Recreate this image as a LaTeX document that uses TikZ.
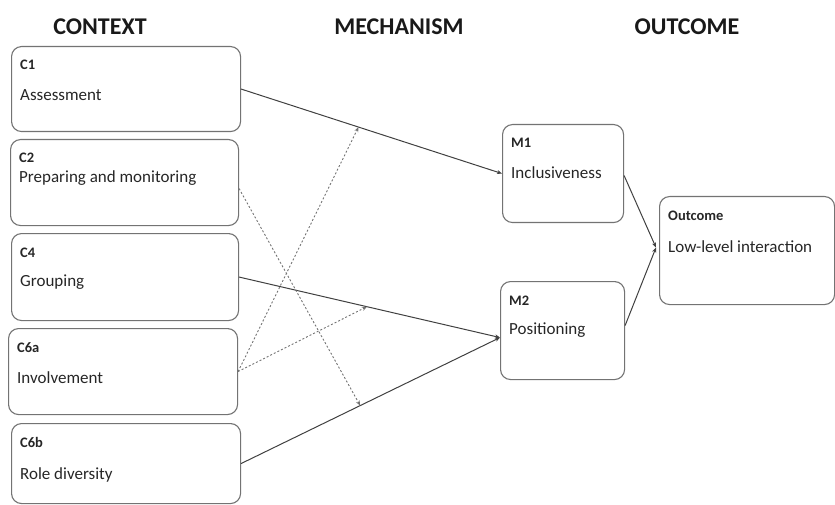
\documentclass[tikz,border=0pt]{standalone}
\usepackage{fontspec}
\setmainfont{Carlito}
\usetikzlibrary{arrows.meta}

\begin{document}
\begin{tikzpicture}
  [x=1pt,y=-1pt,
   box/.style={draw=black!55,line width=1.1pt,rounded corners=10pt,inner sep=0pt},
   lab/.style={font=\fontsize{14.5}{16}\selectfont\bfseries,text=black!85,inner sep=0pt,anchor=base west},
   txt/.style={font=\fontsize{17}{19}\selectfont,text=black!85,inner sep=0pt,anchor=base west},
   head/.style={font=\fontsize{24}{26}\selectfont\bfseries,text=black!90},
   link/.style={draw=black!75,line width=1pt,-{Stealth[length=5pt,width=4pt]}},
   hint/.style={draw=black!55,line width=.9pt,dash pattern=on 2pt off 2pt,-{Stealth[length=5pt,width=4pt]}}]
  \useasboundingbox (0,0) rectangle (835,505);

  \node[head] (hc) at (100,27)  {CONTEXT};
  \node[head] (hm) at (399,27)  {MECHANISM};
  \node[head] (ho) at (687,27)  {OUTCOME};

  \node[box,anchor=north west,minimum width=229pt,minimum height=85pt] (c1)  at (11,46)  {};
  \node[box,anchor=north west,minimum width=228pt,minimum height=86pt] (c2)  at (10,139) {};
  \node[box,anchor=north west,minimum width=227pt,minimum height=87pt] (c4)  at (11,233) {};
  \node[box,anchor=north west,minimum width=229pt,minimum height=86pt] (c6a) at (8,328)  {};
  \node[box,anchor=north west,minimum width=229pt,minimum height=80pt] (c6b) at (11,423) {};
  \node[box,anchor=north west,minimum width=121pt,minimum height=98pt] (m1)  at (502,124) {};
  \node[box,anchor=north west,minimum width=124pt,minimum height=98pt] (m2)  at (500,281) {};
  \node[box,anchor=north west,minimum width=175pt,minimum height=108pt] (out) at (659,196) {};

  \foreach \n/\l/\t/\d in {c1/C1/Assessment/55,c2/C2/Preparing and monitoring/44,
      c4/C4/Grouping/53,c6a/C6a/Involvement/55,c6b/C6b/Role diversity/56,
      m1/M1/Inclusiveness/55,m2/M2/Positioning/53,out/Outcome/Low-level interaction/56}
  {
    \node[lab] (\n-lab) at ([xshift=9pt,yshift=-24pt]\n.north west) {\l};
    \node[txt] (\n-txt) at ([xshift=9pt,yshift=-\d pt]\n.north west) {\t};
  }

  \coordinate (c2out) at ([yshift=-6pt]c2.east);
  \coordinate (m2in) at ([yshift=-7pt]m2.west);
  \coordinate (m1out) at ([yshift=-2pt]m1.east);
  \coordinate (m2out) at ([yshift=5pt]m2.east);
  \coordinate (outin) at ([xshift=-3pt,yshift=3pt]out.west);

  \path (c1.east) -- (m1.west) coordinate[pos=.45] (p1);
  \path (c4.east) -- (m2in) coordinate[pos=.49] (p4);
  \path (c6b.east) -- (m2in) coordinate[pos=.46] (p6);

  \draw[link] (c1.east) -- (m1.west);
  \foreach \from/\to in {c4.east/m2in,c6b.east/m2in,m1out/outin,m2out/outin}
  \draw[link] (\from) -- (\to);

  \foreach \from/\to in {c2out/p6,c6a.east/p1,c6a.east/p4}
  \draw[hint] (\from) -- (\to);

\end{tikzpicture}
\end{document}
